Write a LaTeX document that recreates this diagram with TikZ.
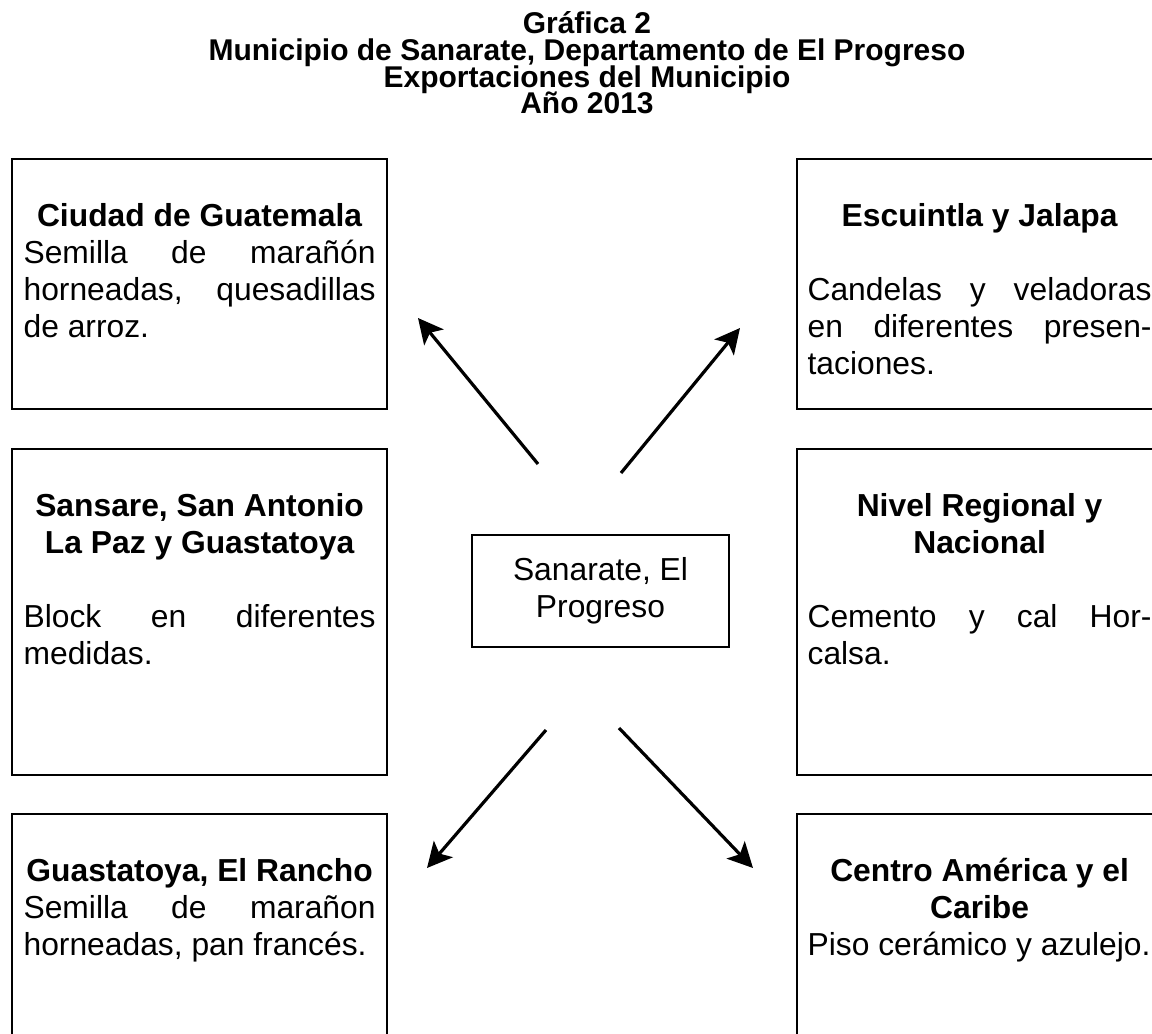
\documentclass[tikz,border=0pt]{standalone}
\usepackage{fontspec}
\setmainfont{Liberation Sans}
\usetikzlibrary{positioning, arrows.meta}

\begin{document}
\begin{tikzpicture}[x=0.5pt, y=-0.5pt,
		region/.style={draw, rectangle, line width=1.1pt, anchor=north west, inner sep=0pt},
		info/.style={anchor=north, inner sep=0pt, text width=176pt, align=justify, font=\fontsize{15.9}{18.5}\selectfont\parindent0pt},
		flow/.style={-{Stealth[length=12.5pt, width=12.5pt, inset=3pt]}, line width=1.6pt}]
				\useasboundingbox (0, 0) rectangle (1152, 1034);
				% titulo
				\node[anchor=north, align=center, inner sep=0pt, font=\bfseries\fontsize{15}{13.4}\selectfont\lineskiplimit-20pt] (T)at(587, 11) {Gráfica 2\\ Municipio de Sanarate, Departamento de El Progreso\\ Exportaciones del Municipio\\ Año 2013};
				% cuadros
				\node[region, minimum width=187.5pt, minimum height=125pt] (CG)at(11, 158) {};
				\node[region, minimum width=182.5pt, minimum height=125pt] (EJ)at(796, 158) {};
				\node[region, minimum width=187.5pt, minimum height=163pt] (SP)at(11, 448) {};
				\node[region, minimum width=182.5pt, minimum height=163pt] (NR)at(796, 448) {};
				\node[region, minimum width=187.5pt, minimum height=140pt] (GR)at(11, 813) {};
				\node[region, minimum width=182.5pt, minimum height=140pt] (CA)at(796, 813) {};
				\node[draw, rectangle, line width=1pt, minimum width=128.5pt, minimum height=56pt, align=center, font=\fontsize{15.9}{18.5}\selectfont] (SE)at(600.5, 591) {Sanarate, El\\ Progreso};
				% textos
				\node[info, below=21pt of CG.north] (CGt) {\strut{\centering\bfseries Ciudad de Guatemala\par}Semilla de marañón\linebreak horneadas, quesadillas\linebreak de arroz.};
				\node[info, text width=172pt, below=21pt of EJ.north] (EJt) {\strut{\centering\bfseries Escuintla y Jalapa\par}\vspace{18.5pt}Candelas y veladoras\linebreak en diferentes presen-\linebreak taciones.};
				\node[info, below=21pt of SP.north] (SPt) {\strut{\centering\bfseries Sansare, San Antonio\\ La Paz y Guastatoya\par}\vspace{18.5pt}Block en diferentes\linebreak medidas.};
				\node[info, text width=172pt, below=21pt of NR.north] (NRt) {\strut{\centering\bfseries Nivel Regional y\\ Nacional\par}\vspace{18.5pt}Cemento y cal Hor-\linebreak calsa.};
				\node[info, below=21pt of GR.north] (GRt) {\strut{\centering\bfseries Guastatoya, El Rancho\par}Semilla de marañon\linebreak horneadas, pan francés.};
				\node[info, text width=172pt, below=21pt of CA.north] (CAt) {\strut{\centering\bfseries Centro América y el\\ Caribe\par}Piso cerámico y azulejo.};
				% flechas
				\coordinate (ul1)at(538, 464);
				\coordinate (ul2)at(418, 318);
				\coordinate (ur1)at(621, 473);
				\coordinate (ur2)at(740, 328);
				\coordinate (dl1)at(546, 730);
				\coordinate (dl2)at(427, 868);
				\coordinate (dr1)at(619, 728);
				\coordinate (dr2)at(753, 868);
				\draw[flow] (ul1) -- (ul2);
				\draw[flow] (ur1) -- (ur2);
				\draw[flow] (dl1) -- (dl2);
				\draw[flow] (dr1) -- (dr2);
			\end{tikzpicture}
\end{document}
